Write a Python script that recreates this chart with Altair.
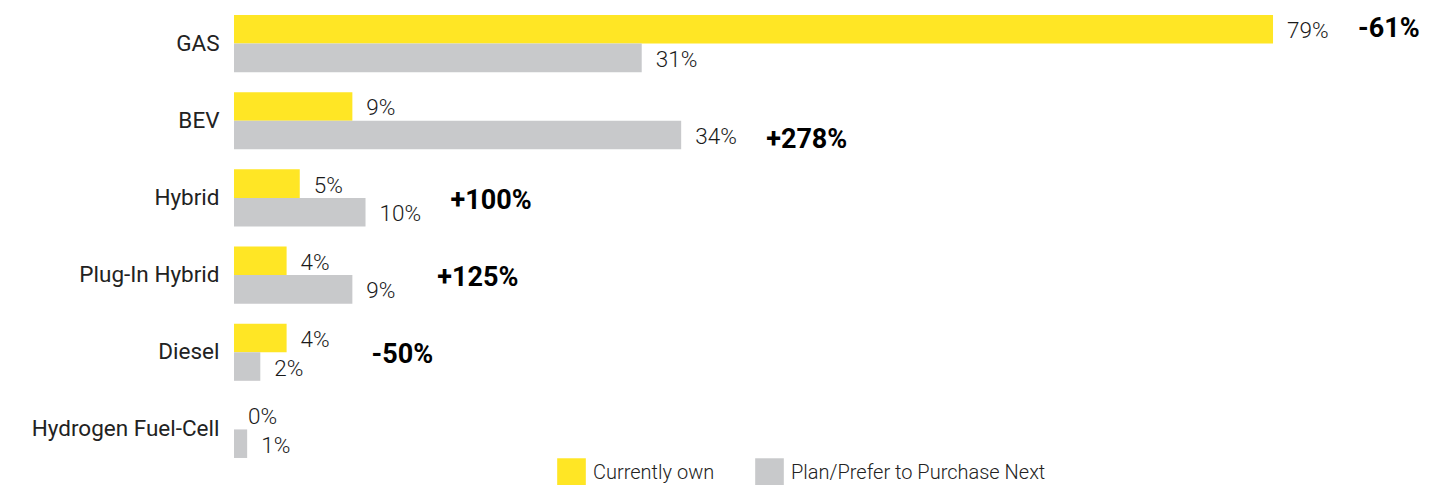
import altair as alt
import pandas as pd

categories = ["GAS", "BEV", "Hybrid", "Plug-In Hybrid", "Diesel", "Hydrogen Fuel-Cell"]
currently_own = [79, 9, 5, 4, 4, 0]
plan_next = [31, 34, 10, 9, 2, 1]
series_names = ["Currently own", "Plan/Prefer to Purchase Next"]
change_labels = ["-61%", "+278%", "+100%", "+125%", "-50%", ""]
change_anchor = ["top", "bottom", "mid", "mid", "mid", "none"]

colors = ["#FFE625", "#C8C9CB"]
FONT = "Roboto"

rows = []
for i, c in enumerate(categories):
    for s, vals in zip(series_names, [currently_own, plan_next]):
        rows.append({"cat": c, "series": s, "value": vals[i], "label": f"{vals[i]}%"})
df = pd.DataFrame(rows)

chg = pd.DataFrame({
    "cat": categories,
    "change": change_labels,
    "anchor": change_anchor,
    "maxv": [max(a, b) for a, b in zip(currently_own, plan_next)],
})

W, H = 1210, 463

y = alt.Y("cat:N", sort=categories,
          scale=alt.Scale(paddingInner=0.26, paddingOuter=0.13),
          axis=alt.Axis(title=None, domain=False, ticks=False, labelPadding=15,
                        labelFontSize=22.5, labelColor="#222222", labelFont=FONT,
                        labelFontWeight=400, labelLimit=400))
x = alt.X("value:Q", scale=alt.Scale(domain=[0, 92], nice=False, zero=True), axis=None)
yoff = alt.YOffset("series:N", sort=series_names, scale=alt.Scale(paddingInner=0, paddingOuter=0))

bars = alt.Chart(df).mark_bar().encode(
    y=y, x=x, yOffset=yoff,
    color=alt.Color("series:N", sort=series_names,
                    scale=alt.Scale(domain=series_names, range=colors),
                    legend=alt.Legend(title=None, orient="none", direction="horizontal",
                                      legendX=323, legendY=453,
                                      symbolType="square", symbolSize=820,
                                      symbolStrokeWidth=0, symbolOpacity=1,
                                      labelFontSize=20, labelFont=FONT,
                                      labelFontWeight=300, labelLimit=400,
                                      labelColor="#222222", labelOffset=7,
                                      columnPadding=40)),
)

vals = alt.Chart(df).mark_text(align="left", baseline="middle", dx=14, dy=2,
                               fontSize=22.5, font=FONT, fontWeight=300,
                               color="#1a1a1a").encode(
    y=alt.Y("cat:N", sort=categories), x="value:Q", yOffset=yoff, text="label:N"
)

def change_layer(anchor, dy):
    return alt.Chart(chg).transform_filter(alt.datum.anchor == anchor).mark_text(
        align="left", baseline="middle", dx=85, dy=dy, fontSize=27, font=FONT,
        fontWeight="bold", color="#000000").encode(
        y=alt.Y("cat:N", sort=categories), x=alt.X("maxv:Q"), text="change:N")

chart = alt.layer(
    bars, vals,
    change_layer("top", -15), change_layer("bottom", 19), change_layer("mid", 3),
).properties(
    width=W, height=H,
    autosize=alt.AutoSizeParams(type="none"),
    padding={"left": 234, "top": 5, "right": 10, "bottom": 17},
).configure(font=FONT).configure_view(stroke=None, strokeWidth=0)

chart.save("out.html", embed_options={"renderer": "svg", "actions": False})
